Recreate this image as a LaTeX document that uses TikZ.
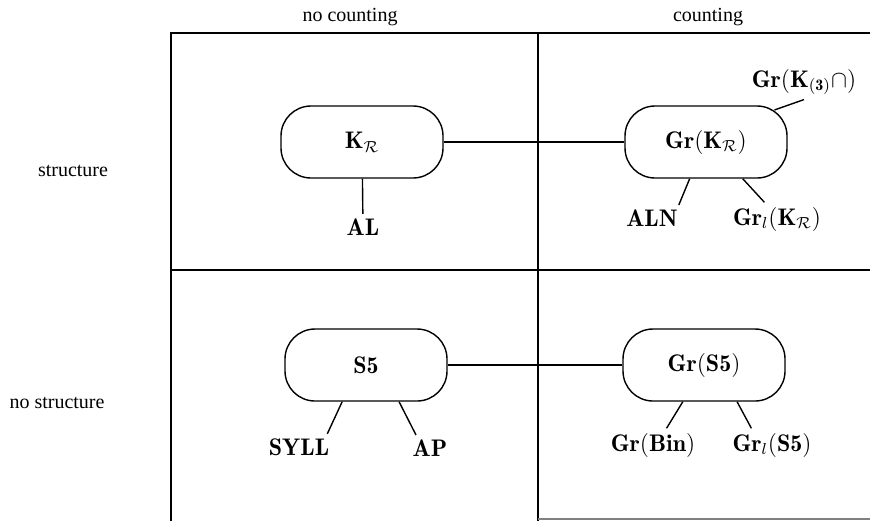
\documentclass[tikz,border=0pt]{standalone}
\usepackage{amsmath, amsfonts, fontspec}
\newfontfamily\headfont{Liberation Serif}
\tikzset{
logicbox/.style={draw, rounded corners=15pt, minimum width=81pt, minimum height=36pt, inner sep=0pt, font=\large},
lab/.style={inner sep=2pt, font=\large},
head/.style={font=\headfont}
}

\begin{document}
\begin{tikzpicture}[x=0.5pt, y=-0.5pt, line width=0.7pt]
\useasboundingbox (0,0) rectangle (870,521);
\draw (171,521) -- (171,33) -- (870,33);
\draw (538,33) -- (538,521);
\draw (171,270) -- (870,270);
\draw[gray] (538,519) -- (870,519);
\node[head] (nocount) at (350,17) {no counting};
\node[head] (count) at (708,17) {counting};
\node[head] (struct) at (73,171) {structure};
\node[head] (nostruct) at (57,403) {no structure};
\node[logicbox] (kr) at (362,142) {$\mathbf{K}_{\mathcal{R}}$};
\node[logicbox] (grkr) at (706,142) {$\mathbf{Gr}(\mathbf{K}_{\mathcal{R}})$};
\node[logicbox] (s5) at (366,365) {$\mathbf{S5}$};
\node[logicbox] (grs5) at (704,365) {$\mathbf{Gr}(\mathbf{S5})$};
\node[lab] (al) at (363,227) {$\mathbf{AL}$};
\node[lab] (aln) at (652,218) {$\mathbf{ALN}$};
\node[lab] (grlkr) at (777,219) {$\mathbf{Gr}_l(\mathbf{K}_{\mathcal{R}})$};
\node[lab] (grk3) at (804,82) {$\mathbf{Gr}(\mathbf{K}_{\mathbf{(3)}}\cap)$};
\node[lab] (syll) at (299,447) {$\mathbf{SYLL}$};
\node[lab] (ap) at (430,448) {$\mathbf{AP}$};
\node[lab] (grbin) at (653,445) {$\mathbf{Gr}(\mathbf{Bin})$};
\node[lab] (grls5) at (772,445) {$\mathbf{Gr}_l(\mathbf{S5})$};
\draw (kr) -- (grkr);
\draw (s5) -- (grs5);
\draw (kr) -- (al);
\draw (grkr.-114) -- (aln.26);
\draw (grkr.-45) -- (grlkr.127);
\draw[shorten >=-7pt] (grk3.south) -- (grkr.north east);
\draw (s5.-123) -- (syll.25);
\draw (s5.-48) -- (ap.137);
\draw (grs5.-120) -- (grbin.51);
\draw (grs5.-48) -- (grls5.141);
\end{tikzpicture}
\end{document}
